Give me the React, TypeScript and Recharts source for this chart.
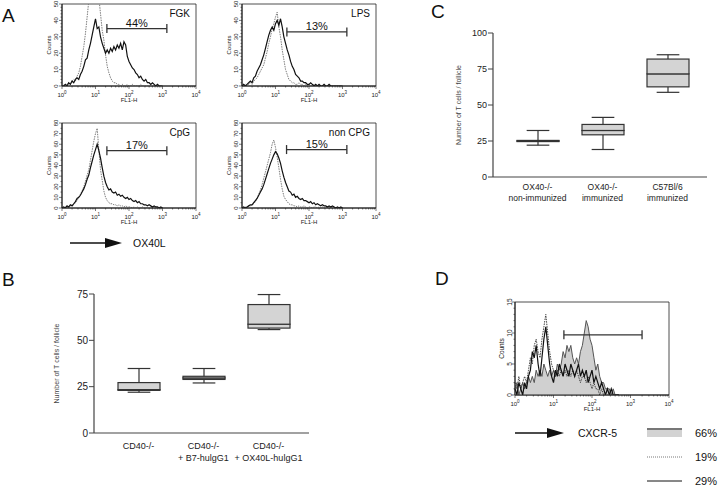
import React from 'react';
import { ComposedChart, Line, Area, Bar, XAxis, YAxis, ReferenceArea, ReferenceLine } from 'recharts';

const FONT = '"Liberation Sans", Arial, Helvetica, sans-serif';

// ---- Panel A: OX40L histograms (x = log10 FL1-H channel) ----
const aLog = [0, 0.05, 0.1, 0.15, 0.2, 0.25, 0.3, 0.35, 0.4, 0.45, 0.5, 0.55, 0.6, 0.65, 0.7, 0.75, 0.8, 0.85, 0.9, 0.95, 1, 1.05, 1.1, 1.15, 1.2, 1.25, 1.3, 1.35, 1.4, 1.45, 1.5, 1.55, 1.6, 1.65, 1.7, 1.75, 1.8, 1.85, 1.9, 1.95, 2, 2.05, 2.1, 2.15, 2.2, 2.25, 2.3, 2.35, 2.4, 2.45, 2.5, 2.55, 2.6, 2.65, 2.7, 2.75, 2.8, 2.85, 2.9, 2.95, 3];

const fgkStained = [0, 0, 1, 0, 2, 1, 3, 2, 4, 5, 4, 7, 9, 12, 16, 17, 22, 26, 31, 36, 41, 35, 36, 30, 26, 23, 20, 22, 20, 23, 21, 24, 22, 25, 23, 26, 22, 27, 25, 18, 15, 13, 11, 10, 8, 7, 5, 6, 4, 3, 4, 2, 2, 1, 2, 1, 0, 1, 0, 0, 0];
const fgkControl = [0, 1, 0, 1, 2, 1, 3, 4, 3, 6, 8, 12, 18, 24, 32, 42, 52, 58, 62, 60, 63, 58, 54, 44, 34, 28, 19, 12, 8, 5, 3, 2, 2, 1, 1, 0, 1, 0, 0, 1, 0, 0, 1, 0, 0, 0, 0, 1, 0, 0, 0, 0, 0, 0, 0, 0, 0, 0, 0, 0, 0];

const lpsStained = [0, 1, 0, 1, 2, 3, 2, 5, 6, 9, 11, 13, 16, 19, 23, 27, 31, 34, 36, 34, 38, 40, 37, 41, 36, 30, 26, 22, 19, 15, 12, 10, 7, 6, 5, 3, 3, 2, 2, 1, 1, 2, 1, 0, 1, 0, 1, 0, 0, 1, 0, 0, 1, 0, 0, 0, 0, 0, 0, 0, 0];
const lpsControl = [0, 0, 1, 0, 1, 2, 1, 3, 4, 5, 7, 9, 11, 13, 17, 21, 26, 30, 35, 38, 42, 45, 36, 30, 22, 16, 10, 7, 4, 3, 2, 2, 1, 1, 2, 1, 1, 0, 1, 0, 1, 0, 0, 1, 0, 0, 0, 0, 0, 0, 0, 0, 0, 0, 0, 0, 0, 0, 0, 0, 0];

const cpgStained = [0, 1, 0, 2, 1, 3, 2, 4, 6, 9, 10, 12, 15, 18, 22, 27, 31, 38, 44, 50, 55, 60, 54, 47, 38, 30, 24, 20, 17, 18, 15, 14, 15, 12, 13, 11, 12, 10, 9, 10, 8, 9, 7, 6, 7, 5, 6, 4, 4, 3, 3, 2, 3, 2, 1, 2, 1, 1, 0, 1, 0];
const cpgControl = [0, 0, 1, 1, 0, 2, 3, 3, 5, 7, 10, 13, 16, 20, 25, 31, 36, 45, 54, 63, 70, 75, 55, 36, 26, 16, 10, 7, 5, 4, 4, 3, 3, 2, 3, 2, 2, 1, 2, 1, 1, 1, 0, 1, 0, 1, 0, 0, 1, 0, 0, 0, 0, 0, 0, 0, 0, 0, 0, 0, 0];

const nonCpgStained = [0, 1, 0, 1, 2, 3, 3, 5, 7, 9, 12, 15, 18, 22, 27, 32, 37, 42, 46, 50, 53, 51, 47, 42, 35, 29, 24, 20, 16, 15, 12, 13, 10, 11, 9, 8, 9, 7, 7, 6, 5, 6, 4, 5, 3, 4, 3, 2, 3, 2, 2, 1, 2, 1, 2, 1, 0, 1, 0, 1, 0];
const nonCpgControl = [0, 0, 1, 0, 2, 2, 3, 4, 6, 9, 13, 17, 22, 28, 34, 40, 46, 52, 60, 64, 57, 48, 38, 27, 18, 11, 8, 6, 4, 3, 3, 2, 2, 1, 2, 1, 1, 2, 1, 0, 1, 1, 0, 1, 1, 0, 1, 0, 1, 0, 1, 0, 0, 0, 0, 0, 0, 0, 0, 0, 0];

// gates as [from, to] in log10 units
const fgkGate = [1.34, 3.13];
const lpsGate = [1.34, 3.13];
const cpgGate = [1.34, 3.13];
const nonCpgGate = [1.33, 3.13];

// ---- Panel D: CXCR-5 histogram ----
const dLog = [0, 0.05, 0.1, 0.15, 0.2, 0.25, 0.3, 0.35, 0.4, 0.45, 0.5, 0.55, 0.6, 0.65, 0.7, 0.75, 0.8, 0.85, 0.9, 0.95, 1, 1.05, 1.1, 1.15, 1.2, 1.25, 1.3, 1.35, 1.4, 1.45, 1.5, 1.55, 1.6, 1.65, 1.7, 1.75, 1.8, 1.85, 1.9, 1.95, 2, 2.05, 2.1, 2.15, 2.2, 2.25, 2.3, 2.35, 2.4, 2.45, 2.5, 2.55, 2.6, 2.65, 2.7];
const dFilled = [1, 2, 0, 1, 2, 1, 2, 3, 2, 3, 2, 4, 3, 4, 3, 5, 4, 3, 4, 3, 4, 3, 5, 4, 5, 7, 6, 8, 7, 8, 6, 5, 6, 5, 7, 8, 10, 12, 11, 9, 8, 6, 4, 5, 3, 2, 2, 1, 1, 1, 0, 1, 0, 0, 0];
const dDotted = [2, 1, 3, 1, 2, 3, 2, 4, 6, 5, 8, 9, 7, 6, 9, 11, 13, 10, 7, 5, 4, 3, 4, 3, 4, 3, 4, 3, 4, 3, 4, 3, 4, 3, 2, 3, 3, 2, 3, 2, 1, 2, 1, 1, 0, 1, 0, 0, 0, 0, 0, 0, 0, 0, 0];
const dSolid = [1, 0, 2, 1, 0, 2, 1, 3, 4, 7, 6, 8, 5, 3, 6, 9, 11, 8, 5, 3, 2, 4, 3, 5, 4, 3, 5, 4, 3, 5, 4, 3, 4, 5, 3, 4, 3, 4, 2, 3, 4, 2, 3, 2, 1, 2, 1, 0, 1, 0, 1, 0, 0, 0, 0];
const dGate = [1.27, 3.3];
const dLegend = ['66%', '19%', '29%'];

// ---- Panel B box plot ----
const bNames = ['CD40-/-', 'CD40-/-\n+ B7-hulgG1', 'CD40-/-\n+ OX40L-hulgG1'];
const bMin = [22, 27, 55.8];
const bQ1 = [23, 28.9, 56.6];
const bMedian = [23.4, 29.7, 58.7];
const bQ3 = [27.2, 30.6, 69.3];
const bMax = [34.8, 34.8, 74.7];
const bTicks = [0, 25, 50, 75];

// ---- Panel C box plot ----
const cNames = ['OX40-/-\nnon-immunized', 'OX40-/-\nimmunized', 'C57Bl/6\nimmunized'];
const cMin = [22.1, 19.1, 58.8];
const cQ1 = [24.6, 29.3, 62.6];
const cMedian = [25, 32.3, 71.6];
const cQ3 = [25.4, 36.5, 81.9];
const cMax = [32.3, 41.4, 84.9];
const cTicks = [0, 25, 50, 75, 100];

const decades = [0, 1, 2, 3, 4];
const minorFactors = [2, 3, 4, 5, 6, 7, 8, 9];
const logTicks = decades.flatMap((d) => (d < 4 ? [d, ...minorFactors.map((f) => d + Math.log10(f))] : [d]));

const LogTick = (props: any) => {
  const { x, y, payload } = props;
  const v = payload.value;
  const major = Math.abs(v - Math.round(v)) < 1e-6;
  return (
    <g>
      <line x1={x} x2={x} y1={y} y2={y + (major ? 3 : 1.5)} stroke="#222" strokeWidth={0.6} />
      {major && (
        <text x={x} y={y + 10.5} textAnchor="middle" fontSize={6} fill="#222" fontFamily={FONT}>
          10<tspan dy={-2.5} fontSize={4.5}>{Math.round(v)}</tspan>
        </text>
      )}
    </g>
  );
};

const CountTick = (props: any) => {
  const { x, y, payload, major, font } = props;
  const v = payload.value;
  const isMajor = v % major === 0;
  return (
    <g>
      <line x1={x} x2={x - (isMajor ? 3 : 1.5)} y1={y} y2={y} stroke="#222" strokeWidth={0.6} />
      {isMajor && (
        <text x={x - 6} y={y} transform={`rotate(-90 ${x - 6} ${y})`} textAnchor="middle" dominantBaseline="central" fontSize={font} fill="#222" fontFamily={FONT}>
          {v}
        </text>
      )}
    </g>
  );
};

type Curve = { key: string; values: number[]; look: 'solid' | 'dotted' | 'filled'; color?: string };

const FlowHistogram = (p: any) => {
  const { left, top, w, h, xs, curves, yMax, yMajor, yMinor, gate, gateLevel, gateText, tag, tickFont = 6 } = p;
  const rows = xs.map((lx: number, i: number) => {
    const r: Record<string, number> = { lx };
    curves.forEach((c: Curve) => { r[c.key] = c.values[i]; });
    return r;
  });
  const yTicks: number[] = [];
  for (let v = 0; v <= yMax; v += yMinor) yTicks.push(v);
  const cap = (4.5 * yMax) / h;
  return (
    <div style={{ position: 'absolute', left: left - 34, top: top - 6 }}>
      <ComposedChart width={w + 44} height={h + 26} data={rows} margin={{ top: 6, right: 10, bottom: 0, left: 0 }}>
        <XAxis dataKey="lx" type="number" domain={[0, 4]} ticks={logTicks} interval={0} height={20}
          tickSize={0} tickMargin={0} tickLine={false} axisLine={{ stroke: '#222' }} tick={<LogTick />}
          label={{ value: 'FL1-H', position: 'insideBottom', offset: 4, fontSize: 6, fill: '#222' }} />
        <YAxis type="number" domain={[0, yMax]} ticks={yTicks} interval={0} width={34} allowDataOverflow
          tickSize={0} tickMargin={0} tickLine={false} axisLine={{ stroke: '#222' }}
          tick={<CountTick major={yMajor} font={tickFont} />}
          label={{ value: 'Counts', angle: -90, position: 'insideLeft', offset: 21, style: { textAnchor: 'middle', fontSize: tickFont, fill: '#222' } }} />
        <ReferenceArea x1={0} x2={4} y1={0} y2={yMax} fill="none" stroke="#222" strokeWidth={0.8}
          label={tag ? { value: tag, position: 'insideTopRight', offset: 6, fontSize: 10, fill: '#111' } : undefined} />
        {curves.map((c: Curve) =>
          c.look === 'filled' ? (
            <Area key={c.key} dataKey={c.key} type="linear" fill="#d0d0d0" fillOpacity={1} stroke="#555" strokeWidth={1} dot={false} activeDot={false} isAnimationActive={false} />
          ) : (
            <Line key={c.key} dataKey={c.key} type="linear" stroke={c.color || (c.look === 'dotted' ? '#7d7d7d' : '#111')}
              strokeWidth={c.look === 'dotted' ? 1 : 1.2} strokeDasharray={c.look === 'dotted' ? '1.5 1' : undefined}
              dot={false} activeDot={false} isAnimationActive={false} />
          )
        )}
        <ReferenceLine segment={[{ x: gate[0], y: gateLevel }, { x: gate[1], y: gateLevel }]} stroke="#333" strokeWidth={1.3}
          label={gateText ? { value: gateText, position: 'top', offset: 2, fontSize: 11, fill: '#111' } : undefined} />
        <ReferenceLine segment={[{ x: gate[0], y: gateLevel - cap }, { x: gate[0], y: gateLevel + cap }]} stroke="#333" strokeWidth={1.3} />
        <ReferenceLine segment={[{ x: gate[1], y: gateLevel - cap }, { x: gate[1], y: gateLevel + cap }]} stroke="#333" strokeWidth={1.3} />
      </ComposedChart>
    </div>
  );
};

const BOX_STROKE = '#333';
const BoxBody = (p: any) => (
  <rect x={p.x} y={p.y} width={p.width} height={Math.max(p.height, 0)} fill="#d4d4d4" stroke={BOX_STROKE} strokeWidth={1.2} />
);
const LowWhisker = (p: any) => {
  const cx = p.x + p.width / 2;
  const half = p.width * 0.27;
  const yb = p.y + p.height;
  return (
    <g stroke={BOX_STROKE} strokeWidth={1.2}>
      <line x1={cx} x2={cx} y1={p.y} y2={yb} />
      <line x1={cx - half} x2={cx + half} y1={yb} y2={yb} />
    </g>
  );
};
const HighWhisker = (p: any) => {
  const cx = p.x + p.width / 2;
  const half = p.width * 0.27;
  return (
    <g stroke={BOX_STROKE} strokeWidth={1.2}>
      <line x1={cx} x2={cx} y1={p.y} y2={p.y + p.height} />
      <line x1={cx - half} x2={cx + half} y1={p.y} y2={p.y} />
    </g>
  );
};

const CategoryTick = (props: any) => {
  const { x, y, payload, firstDy, font } = props;
  const lines = String(payload.value).split('\n');
  return (
    <text x={x} y={y + firstDy} textAnchor="middle" fontSize={font} fill="#222" fontFamily={FONT}>
      {lines.map((t, i) => (
        <tspan key={i} x={x} dy={i === 0 ? 0 : font * 1.35}>{t}</tspan>
      ))}
    </text>
  );
};

const BoxPanel = (p: any) => {
  const { left, top, width, height, yAxisW, xAxisH, marginTop, marginRight, names, mins, q1s, meds, q3s, maxs, yMax, yTicks, pad, yFont, xFont, firstDy, labelOffset } = p;
  const rows = names.map((name: string, i: number) => ({
    name,
    base: mins[i],
    lowW: q1s[i] - mins[i],
    lowB: meds[i] - q1s[i],
    highB: q3s[i] - meds[i],
    highW: maxs[i] - q3s[i],
  }));
  return (
    <div style={{ position: 'absolute', left, top }}>
      <ComposedChart width={width} height={height} data={rows} barSize={42} margin={{ top: marginTop, right: marginRight, bottom: 0, left: 0 }}>
        <XAxis dataKey="name" interval={0} height={xAxisH} padding={pad} tickSize={0} tickMargin={0} tickLine={false}
          axisLine={{ stroke: '#444', strokeWidth: 1.2 }} tick={<CategoryTick firstDy={firstDy} font={xFont} />} />
        <YAxis type="number" domain={[0, yMax]} ticks={yTicks} interval={0} width={yAxisW} tickSize={5} tickMargin={1}
          axisLine={{ stroke: '#444', strokeWidth: 1.2 }} tickLine={{ stroke: '#444' }} tick={{ fontSize: yFont, fill: '#222' }}
          label={{ value: 'Number of T cells / follicle', angle: -90, position: 'insideLeft', offset: labelOffset, style: { textAnchor: 'middle', fontSize: 7, fill: '#444' } }} />
        <Bar dataKey="base" stackId="box" shape={() => <g />} isAnimationActive={false} />
        <Bar dataKey="lowW" stackId="box" shape={LowWhisker} isAnimationActive={false} />
        <Bar dataKey="lowB" stackId="box" shape={BoxBody} isAnimationActive={false} />
        <Bar dataKey="highB" stackId="box" shape={BoxBody} isAnimationActive={false} />
        <Bar dataKey="highW" stackId="box" shape={HighWhisker} isAnimationActive={false} />
      </ComposedChart>
    </div>
  );
};

const Arrow = ({ x1, x2, y }: { x1: number; x2: number; y: number }) => (
  <g>
    <line x1={x1} x2={x2 - 14} y1={y} y2={y} stroke="#111" strokeWidth={1.5} />
    <polygon points={`${x2 - 17},${y - 5} ${x2},${y} ${x2 - 17},${y + 5}`} fill="#111" />
  </g>
);

export default function App() {
  return (
    <div style={{ position: 'absolute', left: 0, top: 0, width: 720, height: 490, background: '#fff', fontFamily: FONT, overflow: 'hidden' }}>
      <FlowHistogram left={62} top={4} w={134} h={82} xs={aLog} yMax={50} yMajor={10} yMinor={2}
        curves={[{ key: 'ctl', values: fgkControl, look: 'dotted' }, { key: 'ox', values: fgkStained, look: 'solid' }]}
        gate={fgkGate} gateLevel={35} gateText="44%" tag="FGK" />
      <FlowHistogram left={242} top={4} w={134} h={82} xs={aLog} yMax={50} yMajor={10} yMinor={2}
        curves={[{ key: 'ctl', values: lpsControl, look: 'dotted' }, { key: 'ox', values: lpsStained, look: 'solid' }]}
        gate={lpsGate} gateLevel={33} gateText="13%" tag="LPS" />
      <FlowHistogram left={62} top={123} w={134} h={85} xs={aLog} yMax={80} yMajor={10} yMinor={5}
        curves={[{ key: 'ctl', values: cpgControl, look: 'dotted' }, { key: 'ox', values: cpgStained, look: 'solid' }]}
        gate={cpgGate} gateLevel={54} gateText="17%" tag="CpG" />
      <FlowHistogram left={242} top={123} w={134} h={85} xs={aLog} yMax={80} yMajor={10} yMinor={5}
        curves={[{ key: 'ctl', values: nonCpgControl, look: 'dotted' }, { key: 'ox', values: nonCpgStained, look: 'solid' }]}
        gate={nonCpgGate} gateLevel={55} gateText="15%" tag="non CPG" />

      <FlowHistogram left={515} top={302} w={154} h={93} xs={dLog} yMax={15} yMajor={5} yMinor={1} tickFont={6.5}
        curves={[{ key: 'fill', values: dFilled, look: 'filled' }, { key: 'dot', values: dDotted, look: 'dotted', color: '#444' }, { key: 'sol', values: dSolid, look: 'solid' }]}
        gate={dGate} gateLevel={9.7} gateText="" tag="" />

      <BoxPanel left={38} top={286} width={275} height={180} yAxisW={56} xAxisH={33} marginTop={8} marginRight={4}
        names={bNames} mins={bMin} q1s={bQ1} meds={bMedian} q3s={bQ3} maxs={bMax} yMax={75} yTicks={bTicks}
        pad={{ left: 12, right: 8 }} yFont={10} xFont={9} firstDy={16} labelOffset={19} />
      <BoxPanel left={436} top={25} width={275} height={184} yAxisW={57} xAxisH={32} marginTop={8} marginRight={4}
        names={cNames} mins={cMin} q1s={cQ1} meds={cMedian} q3s={cQ3} maxs={cMax} yMax={100} yTicks={cTicks}
        pad={{ left: 12, right: 7 }} yFont={9} xFont={8.5} firstDy={13} labelOffset={23} />

      <svg width={720} height={490} style={{ position: 'absolute', left: 0, top: 0, pointerEvents: 'none' }} fontFamily={FONT}>
        <text x={2} y={22} fontSize={19} fill="#111">A</text>
        <text x={2} y={286} fontSize={19} fill="#111">B</text>
        <text x={431} y={18} fontSize={19} fill="#111">C</text>
        <text x={435} y={285} fontSize={19} fill="#111">D</text>

        <Arrow x1={70} x2={122} y={243} />
        <text x={133} y={247} fontSize={10.5} fill="#111">OX40L</text>

        <Arrow x1={515} x2={564} y={433} />
        <text x={578} y={437} fontSize={10.5} fill="#111">CXCR-5</text>

        <rect x={647} y={429} width={35} height={8} fill="#d3d3d3" />
        <line x1={647} x2={682} y1={429} y2={429} stroke="#777" strokeWidth={2} />
        <text x={695} y={437} fontSize={11} fill="#111">{dLegend[0]}</text>
        <line x1={647} x2={682} y1={457} y2={457} stroke="#555" strokeWidth={0.8} strokeDasharray="1 1" />
        <text x={695} y={461} fontSize={11} fill="#111">{dLegend[1]}</text>
        <line x1={647} x2={682} y1={481} y2={481} stroke="#111" strokeWidth={1} />
        <text x={695} y={485} fontSize={11} fill="#111">{dLegend[2]}</text>
      </svg>
    </div>
  );
}
